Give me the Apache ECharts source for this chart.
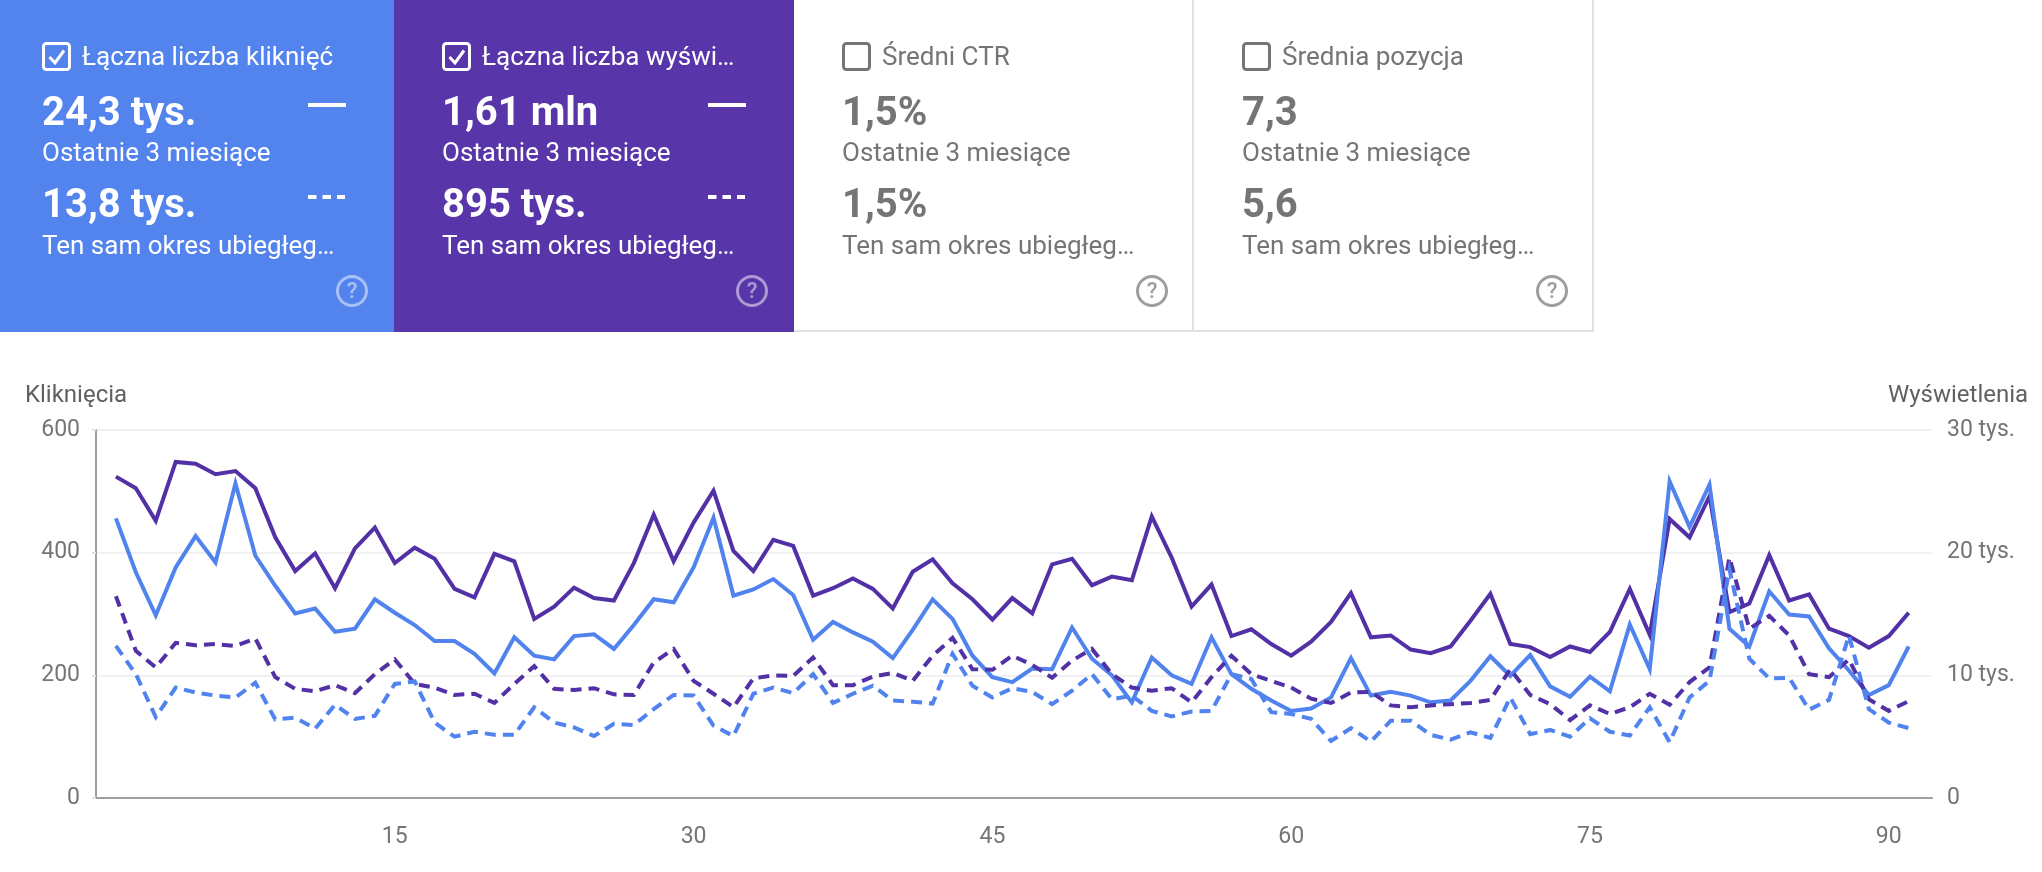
<!DOCTYPE html>
<html>
<head>
<meta charset="utf-8">
<style>
html,body{margin:0;padding:0;background:#fff;}
#chart{width:2042px;height:872px;}
</style>
<script src="https://cdn.jsdelivr.net/npm/echarts@6/dist/echarts.min.js"></script>
</head>
<body>
<div id="chart"></div>
<script>
const FONT = 'Roboto';
const BLUE = '#5083ee', PURPLE = '#5230a6', GREY = '#757575';

// x axis: dzien okresu
const days = [];
for (let d = 1; d <= 91; d++) days.push(d);

// Klikniecia, ostatnie 3 miesiace
const clicksNow = [456,368,298,376,427,384,513,395,346,301,309,271,276,324,302,282,256,256,235,203,262,232,226,264,267,243,282,324,319,376,
    457,330,340,357,331,258,287,270,255,228,274,324,292,232,197,189,211,210,278,227,200,156,229,200,186,262,202,178,159,142,146,164,228,167,
    173,167,156,159,191,231,199,233,182,165,198,174,283,210,516,442,511,276,247,337,299,296,244,208,168,184,247];
// Klikniecia, ten sam okres rok wczesniej
const clicksPrev = [248,202,132,180,172,167,164,188,128,131,113,152,129,134,186,190,123,100,108,103,103,148,123,115,101,121,119,145,168,167,
    118,101,170,180,171,202,155,170,183,159,157,154,235,183,164,179,173,153,175,202,161,167,142,133,141,142,202,194,140,137,129,93,114,92,
    126,126,103,95,107,98,164,104,111,100,130,108,102,148,91,164,191,373,227,195,196,144,160,265,145,123,114];
// Wyswietlenia, ostatnie 3 miesiace
const viewsNow = [26200,25250,22600,27400,27250,26400,26650,25250,21250,18500,19950,17100,20350,22050,19150,20400,19500,17050,16350,19900,19300,14600,15600,17150,16300,16100,19150,23100,19300,22450,
    25050,20150,18500,21050,20550,16500,17100,17900,17050,15450,18450,19450,17500,16200,14550,16300,15050,19050,19500,17350,18050,17750,22950,19600,15600,17400,13200,13750,12550,11600,12750,14350,16700,13100,
    13250,12100,11800,12350,14450,16650,12550,12300,11500,12350,11900,13550,17050,13300,22750,21250,24600,15150,15850,19800,16100,16600,13800,13200,12250,13200,15100];
// Wyswietlenia, ten sam okres rok wczesniej
const viewsPrev = [16450,12000,10650,12650,12450,12550,12400,13000,9850,8900,8700,9200,8550,10100,11300,9300,9000,8400,8500,7750,9300,10750,8900,8800,8950,8450,8400,11050,12150,9550,
    8500,7400,9750,10000,9950,11450,9200,9200,9900,10200,9550,11600,13050,10500,10450,11600,10850,9800,11200,12150,10100,9000,8750,8950,7800,9850,11600,10100,9550,9000,8100,7750,8600,8650,
    7550,7400,7550,7650,7750,8000,10500,8400,7650,6350,7550,6850,7400,8500,7600,9450,10650,19600,13800,14850,13250,10100,9850,11300,8050,7100,7900];

// osie
const clicksTicks = [0,200,400,600];
const viewsTicks = [0,10000,20000,30000];
const dayStep = 15;

// karty nad wykresem
const cardTitles = ['Łączna liczba kliknięć','Łączna liczba wyświ…','Średni CTR','Średnia pozycja'];
const cardNow = ['24,3 tys.','1,61 mln','1,5%','7,3'];
const cardPrev = ['13,8 tys.','895 tys.','1,5%','5,6'];
const labelNow = 'Ostatnie 3 miesiące';
const labelPrev = 'Ten sam okres ubiegłeg…';
const cardFills = ['#5383ec','#5835a8',null,null];
const cardEdges = [[-6,394],[394,794],[794,1193],[1193,1593]];

function cardGraphics(){
    const out = [];
    cardTitles.forEach((title,i)=>{
        const on = !!cardFills[i], dx = i*400, fg = on ? '#fff' : GREY;
        const [x0,x1] = cardEdges[i];
        if(on){
            out.push({type:'rect',shape:{x:x0,y:0,width:x1-x0,height:332},style:{fill:cardFills[i]},silent:true});
        }else{
            out.push({type:'rect',shape:{x:x1-1,y:0,width:2,height:332},style:{fill:'#e0e0e0'},silent:true});
            out.push({type:'rect',shape:{x:x0,y:330,width:x1-x0,height:2},style:{fill:'#e0e0e0'},silent:true});
        }
        // checkbox
        out.push({type:'rect',shape:{x:dx+43.5,y:43.5,width:26,height:26,r:3},style:{fill:null,stroke:fg,lineWidth:3},silent:true});
        if(on) out.push({type:'polyline',shape:{points:[[dx+49.5,57],[dx+55,63],[dx+64,50.5]]},style:{fill:null,stroke:fg,lineWidth:3},silent:true});
        const text = (t,y,size,weight)=>out.push({type:'text',x:dx+42,y:y,style:{text:t,fill:fg,font:`${weight} ${size}px ${FONT}`,textVerticalAlign:'middle'},silent:true});
        out.push({type:'text',x:dx+82,y:58,style:{text:title,fill:fg,font:`400 26px ${FONT}`,textVerticalAlign:'middle'},silent:true});
        text(cardNow[i],115,40,700);
        text(labelNow,154,26,400);
        text(cardPrev[i],207,40,700);
        text(labelPrev,247,26,400);
        // legenda linii
        if(on){
            out.push({type:'line',shape:{x1:dx+308,y1:105,x2:dx+346,y2:105},style:{stroke:'#fff',lineWidth:4},silent:true});
            out.push({type:'line',shape:{x1:dx+308,y1:197,x2:dx+345,y2:197},style:{stroke:'#fff',lineWidth:4,lineDash:[8.5,6]},silent:true});
        }
        // pomoc
        const helpColor = on ? 'rgba(255,255,255,0.5)' : '#9e9e9e';
        out.push({type:'circle',shape:{cx:dx+352,cy:291,r:14.5},style:{fill:null,stroke:helpColor,lineWidth:3},silent:true});
        out.push({type:'text',x:dx+352,y:292,style:{text:'?',fill:helpColor,font:`500 22px ${FONT}`,textAlign:'center',textVerticalAlign:'middle'},silent:true});
    });
    return out;
}

function lineSeries(name,values,yAxisIndex,color,dashed){
    return {
        name:name,type:'line',yAxisIndex:yAxisIndex,symbol:'none',smooth:false,
        data:days.map((d,i)=>[d,values[i]]),
        lineStyle:{color:color,width:4,type:dashed?[11,7]:'solid',join:'miter'},
        emphasis:{disabled:true},animation:false
    };
}

const myChart = echarts.init(document.getElementById('chart'));
myChart.setOption({
    backgroundColor:'#ffffff',
    animation:false,
    grid:{left:96,right:110,top:430,bottom:74,containLabel:false},
    xAxis:{
        type:'value',min:0,max:92.17,interval:dayStep,
        axisLine:{show:true,lineStyle:{color:'#9e9e9e',width:2}},
        axisTick:{show:false},splitLine:{show:false},
        axisLabel:{color:GREY,fontFamily:FONT,fontSize:23,margin:28,showMinLabel:false,showMaxLabel:false,
            formatter:v=>v%dayStep===0&&v>0?String(v):''}
    },
    yAxis:[{
        type:'value',min:clicksTicks[0],max:clicksTicks[3],interval:clicksTicks[1],
        name:'Kliknięcia',nameLocation:'end',nameGap:22,
        nameTextStyle:{color:'#616161',fontFamily:FONT,fontSize:24,align:'center',padding:[0,40,0,0]},
        axisLine:{show:true,onZero:false,lineStyle:{color:'#9e9e9e',width:2}},
        axisTick:{show:true,length:4,lineStyle:{color:'#e0e0e0',width:2}},
        splitLine:{show:true,lineStyle:{color:'#f1f1f1',width:2}},
        axisLabel:{color:GREY,fontFamily:FONT,fontSize:23,margin:16}
    },{
        type:'value',min:viewsTicks[0],max:viewsTicks[3],interval:viewsTicks[1],position:'right',
        name:'Wyświetlenia',nameLocation:'end',nameGap:22,
        nameTextStyle:{color:'#616161',fontFamily:FONT,fontSize:24,align:'center',padding:[0,0,0,52]},
        axisLine:{show:true,onZero:false,lineStyle:{color:'rgba(0,0,0,0)'}},axisTick:{show:false},splitLine:{show:false},
        axisLabel:{color:GREY,fontFamily:FONT,fontSize:23,margin:15,formatter:v=>v===0?'0':(v/1000)+' tys.'}
    }],
    series:[
        lineSeries('Wyświetlenia',viewsNow,1,PURPLE,false),
        lineSeries('Kliknięcia',clicksNow,0,BLUE,false),
        lineSeries('Wyświetlenia, rok wcześniej',viewsPrev,1,PURPLE,true),
        lineSeries('Kliknięcia, rok wcześniej',clicksPrev,0,BLUE,true)
    ],
    graphic:{elements:cardGraphics()}
});
window.addEventListener('resize',()=>myChart.resize());
</script>
</body>
</html>
